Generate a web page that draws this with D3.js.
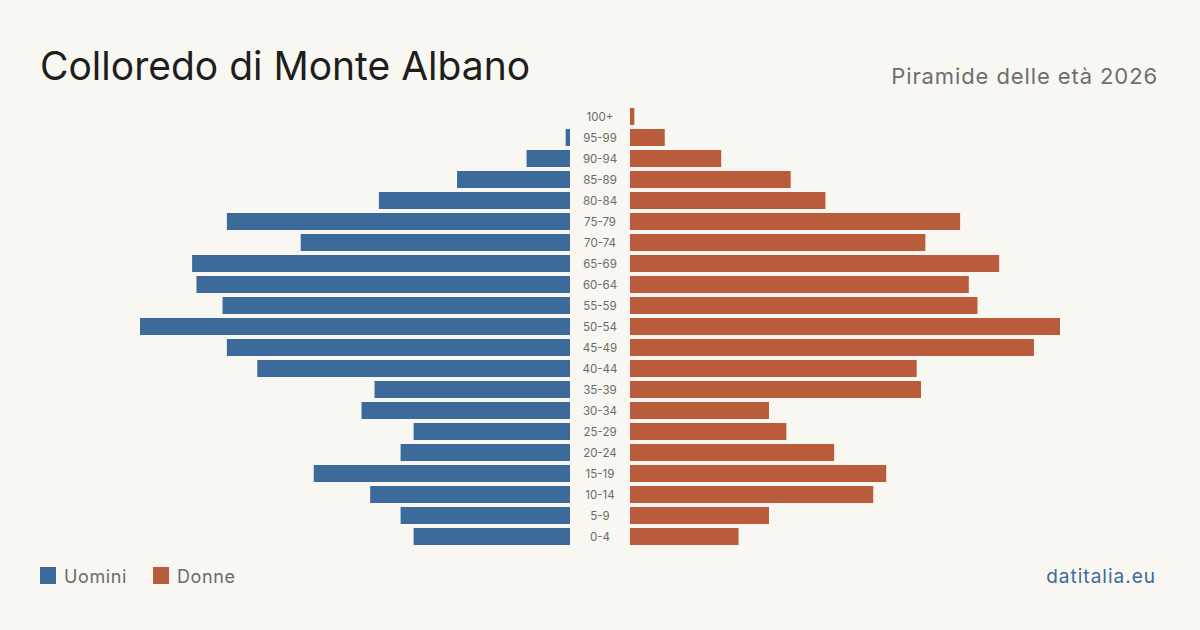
<!DOCTYPE html>
<html>
<head>
<meta charset="utf-8">
<script src="https://cdn.jsdelivr.net/npm/d3@7"></script>
<style>
  html, body { margin: 0; padding: 0; background: #f9f7f2; }
  svg { display: block; font-family: Inter, "Liberation Sans", sans-serif; }
</style>
</head>
<body>
<script>
const ages = ["100+", "95-99", "90-94", "85-89", "80-84", "75-79", "70-74", "65-69",
  "60-64", "55-59", "50-54", "45-49", "40-44", "35-39", "30-34", "25-29",
  "20-24", "15-19", "10-14", "5-9", "0-4"];
const men = [0, 1, 10, 26, 44, 79, 62, 87, 86, 80, 99, 79, 72, 45, 48, 36, 39, 59, 46, 39, 36];
const women = [1, 8, 21, 37, 45, 76, 68, 85, 78, 80, 99, 93, 66, 67, 32, 36, 47, 59, 56, 32, 25];

const width = 1200;
const height = 630;
const blue = "#3b6a9b";
const orange = "#b95c3b";

const svg = d3.select("body").append("svg")
  .attr("width", width)
  .attr("height", height);

svg.append("rect").attr("width", width).attr("height", height).attr("fill", "#f9f7f2");

const maxVal = d3.max([...men, ...women]);

const y = d3.scaleBand()
  .domain(ages)
  .range([106, 547])
  .paddingInner(0.19)
  .paddingOuter(0.095);

const xLeft = d3.scaleLinear().domain([0, maxVal]).range([570, 140]);
const xRight = d3.scaleLinear().domain([0, maxVal]).range([630, 1060]);

const rows = ages.map((a, i) => ({ age: a, m: men[i], f: women[i] }));

svg.append("g").selectAll("rect")
  .data(rows)
  .join("rect")
  .attr("x", d => xLeft(d.m))
  .attr("y", d => y(d.age))
  .attr("width", d => xLeft(0) - xLeft(d.m))
  .attr("height", y.bandwidth())
  .attr("fill", blue);

svg.append("g").selectAll("rect")
  .data(rows)
  .join("rect")
  .attr("x", xRight(0))
  .attr("y", d => y(d.age))
  .attr("width", d => xRight(d.f) - xRight(0))
  .attr("height", y.bandwidth())
  .attr("fill", orange);

svg.append("g").selectAll("text")
  .data(rows)
  .join("text")
  .attr("x", 600)
  .attr("y", d => y(d.age) + y.bandwidth() / 2 + 4)
  .attr("text-anchor", "middle")
  .attr("font-size", 11.5)
  .attr("fill", "#6b6b6b")
  .text(d => d.age);

// titles
svg.append("text")
  .attr("x", 40).attr("y", 80)
  .attr("font-size", 39)
  .attr("fill", "#1e1e1e")
  .text("Colloredo di Monte Albano");

svg.append("text")
  .attr("x", 1158).attr("y", 84)
  .attr("text-anchor", "end")
  .attr("font-size", 22)
  .attr("letter-spacing", 0.9)
  .attr("fill", "#6e6e6e")
  .text("Piramide delle età 2026");

// legend
const legend = [{ label: "Uomini", color: blue, x: 40 }, { label: "Donne", color: orange, x: 153 }];
const lg = svg.append("g").selectAll("g").data(legend).join("g")
  .attr("transform", d => `translate(${d.x},567)`);
lg.append("rect").attr("width", 16).attr("height", 17).attr("fill", d => d.color);
lg.append("text").attr("x", 24).attr("y", 15.5)
  .attr("font-size", 18).attr("letter-spacing", 0.6).attr("fill", "#6b6b6b")
  .text(d => d.label);

svg.append("text")
  .attr("x", 1156).attr("y", 583)
  .attr("text-anchor", "end")
  .attr("font-size", 19)
  .attr("letter-spacing", 1)
  .attr("fill", "#3b6a9b")
  .text("datitalia.eu");
</script>
</body>
</html>
